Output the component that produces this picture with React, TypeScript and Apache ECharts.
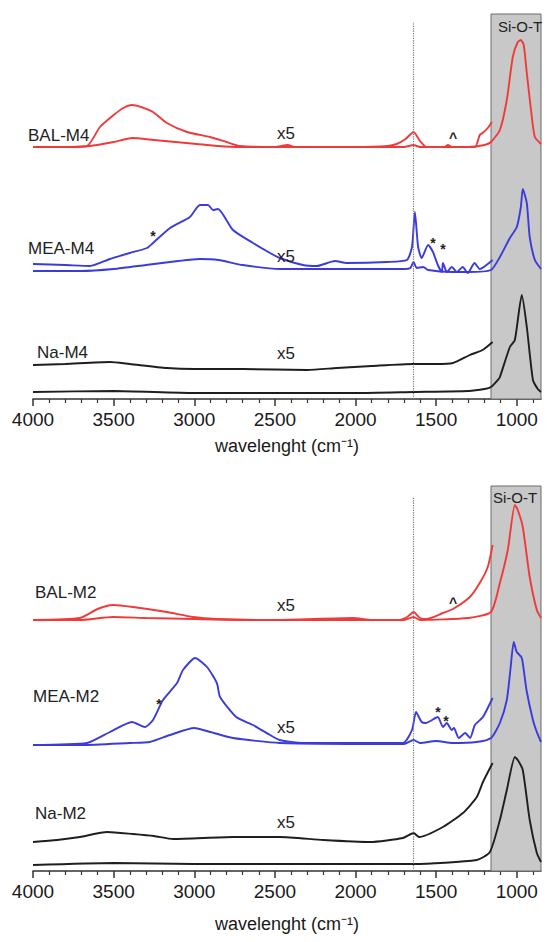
import React, { useEffect, useRef } from "react";
import * as echarts from "echarts";

// ---------- data (wavenumber cm-1, intensity in arbitrary units) ----------
const MAJOR_TICKS = [4000, 3500, 3000, 2500, 2000, 1500, 1000];
const MINOR_TICKS = [3900, 3800, 3700, 3600, 3400, 3300, 3200, 3100, 2900, 2800, 2700, 2600, 2400, 2300, 2200, 2100, 1900, 1800, 1700, 1600, 1400, 1300, 1200, 1100, 900];
const X_MIN = 850;
const X_MAX = 4000;
const SIOT_RANGE = [1160, 850];
const DOTTED_LINE_X = 1640;

// top panel (M4)
const BAL_M4_raw = [[4000,252],[3800,252],[3650,253],[3500,257],[3386,261],[3250,259],[3050,256],[2850,253],[2717,252],[2000,252],[1700,252],[1640,254],[1600,252],[1300,252],[1200,254],[1160,257],[1105,269],[1062,299],[1025,342],[994,357],[975,359],[957,354],[938,326],[907,282],[888,262],[850,255]];
const BAL_M4_x5 = [[4000,252],[3800,252],[3665,253],[3585,272],[3500,284],[3440,291],[3386,294],[3330,292],[3256,287],[3170,276],[3045,267],[2903,262],[2800,257],[2717,253],[2500,252],[2420,254],[2380,252],[2000,252],[1800,253],[1745,255],[1690,260],[1640,267],[1600,258],[1560,252],[1450,252],[1427,254],[1400,252],[1260,252],[1230,264],[1212,266],[1180,271],[1155,277]];
const MEA_M4_raw = [[4000,128],[3700,128],[3500,130],[3300,134],[3100,138],[2965,140],[2850,139],[2700,134],[2470,130],[2000,130],[1700,130],[1660,131],[1640,137],[1620,131],[1580,132],[1550,129],[1400,127],[1300,127],[1160,129],[1105,142],[1043,161],[1000,172],[975,192],[963,210],[938,196],[920,162],[888,139],[850,130]];
const MEA_M4_x5 = [[4000,135],[3800,134],[3647,133],[3523,140],[3400,146],[3293,151],[3256,156],[3150,171],[3027,182],[2965,194],[2915,194],[2884,189],[2853,190],[2760,169],[2636,156],[2530,146],[2470,141],[2326,134],[2240,133],[2128,138],[2054,136],[1806,137],[1682,139],[1650,152],[1632,187],[1612,152],[1590,141],[1550,154],[1520,147],[1490,134],[1465,127],[1458,136],[1434,127],[1403,132],[1372,127],[1335,132],[1304,126],[1262,136],[1230,130],[1150,139]];
const NA_M4_raw = [[4000,7],[3500,8],[3000,6],[2000,6],[1640,7],[1300,8],[1200,10],[1160,12],[1118,19],[1105,22],[1043,52],[1012,59],[969,104],[938,72],[900,19],[870,10],[850,7]];
const NA_M4_x5 = [[4000,34],[3800,35],[3523,37],[3400,35],[3170,31],[3000,30],[2700,30],[2300,29],[2116,31],[1900,33],[1644,35],[1500,35],[1396,36],[1291,44],[1212,49],[1150,57]];

// bottom panel (M2)
const BAL_M2_raw = [[4000,251],[3709,251],[3504,254],[3300,253],[3000,252],[2700,251],[1700,251],[1640,254],[1600,251],[1300,253],[1160,259],[1105,288],[1056,321],[1012,366],[994,361],[963,344],[920,294],[876,261],[850,253]];
const BAL_M2_x5 = [[4000,251],[3709,253],[3600,262],[3504,266],[3380,264],[3170,259],[3008,254],[2860,252],[2500,251],[2016,253],[1900,251],[1737,251],[1680,254],[1640,259],[1600,253],[1560,252],[1458,258],[1396,262],[1291,274],[1230,288],[1180,304],[1150,326]];
const MEA_M2_raw = [[4000,126],[3700,126],[3400,128],[3275,129],[3150,136],[3000,143],[2900,139],[2760,133],[2470,128],[1700,127],[1640,131],[1600,128],[1500,130],[1400,128],[1250,129],[1160,133],[1105,148],[1062,171],[1040,201],[1019,229],[1000,219],[969,213],[940,181],[900,151],[876,139],[850,129]];
const MEA_M2_x5 = [[4000,126],[3665,128],[3523,139],[3386,149],[3305,144],[3256,151],[3194,171],[3107,188],[3070,201],[2995,213],[2921,204],[2860,188],[2840,174],[2740,154],[2636,146],[2530,136],[2470,131],[2326,128],[1706,128],[1650,141],[1625,159],[1590,149],[1565,148],[1490,154],[1458,144],[1434,148],[1403,141],[1390,143],[1360,133],[1320,138],[1290,133],[1260,146],[1210,154],[1150,173]];
const NA_M2_raw = [[4000,6],[3500,8],[3000,7],[1640,7],[1248,11],[1167,19],[1105,51],[1062,81],[1012,114],[994,111],[963,101],[920,51],[876,18],[850,9]];
const NA_M2_x5 = [[4000,29],[3850,31],[3709,34],[3540,39],[3380,37],[3250,35],[3130,32],[2760,34],[2470,34],[2200,31],[1910,29],[1706,33],[1640,38],[1606,34],[1458,44],[1334,58],[1248,74],[1210,89],[1150,108]];

const RED = "#f03a3a";
const BLUE = "#3b3bdc";
const BLACK = "#1e1e1e";
const FONT = "Liberation Sans, Arial, sans-serif";

export default function App() {
  const ref = useRef<HTMLDivElement>(null);
  useEffect(() => {
    if (!ref.current) return;
    const chart = echarts.init(ref.current, undefined, { renderer: "svg" });

    const grids = [
      { left: 33, right: 6, top: 14, height: 385 },
      { left: 33, right: 6, top: 486, height: 385 },
    ];
    const nameGaps = [38, 44];

    const xAxes: any[] = [];
    grids.forEach((_, gi) => {
      xAxes.push({
        type: "value",
        gridIndex: gi,
        position: "bottom",
        inverse: true,
        min: X_MIN,
        max: X_MAX,
        splitLine: { show: false },
        axisLine: { show: true, lineStyle: { color: "#333", width: 1.5 } },
        axisTick: { show: true, inside: false, length: 7, lineStyle: { color: "#333", width: 1.5 }, customValues: MAJOR_TICKS },
        axisLabel: {
          show: true,
          customValues: MAJOR_TICKS,
          formatter: (v: number) => String(v),
          fontSize: 19,
          fontFamily: FONT,
          color: "#1a1a1a",
          margin: 11,
        },
        name: "wavelenght (cm⁻¹)",
        nameLocation: "middle",
        nameGap: nameGaps[gi],
        nameTextStyle: { fontSize: 18, fontFamily: FONT, color: "#1a1a1a" },
      });
      xAxes.push({
        type: "value",
        gridIndex: gi,
        position: "bottom",
        inverse: true,
        min: X_MIN,
        max: X_MAX,
        splitLine: { show: false },
        axisLine: { show: false },
        axisTick: { show: true, inside: false, length: 4, lineStyle: { color: "#333", width: 1.2 }, customValues: MINOR_TICKS },
        axisLabel: { show: false },
      });
    });

    const yAxes = grids.map((_, gi) => ({
      type: "value",
      gridIndex: gi,
      min: 0,
      max: 385,
      show: false,
    }));

    const line = (data: number[][], color: string, gi: number) => ({
      type: "line",
      xAxisIndex: gi * 2,
      yAxisIndex: gi,
      data,
      showSymbol: false,
      symbol: "none",
      smooth: 0.2,
      z: 3,
      lineStyle: { color, width: 1.9 },
      silent: true,
    });

    const decor = (gi: number, topVal: number) => ({
      type: "line",
      xAxisIndex: gi * 2,
      yAxisIndex: gi,
      data: [],
      z: 1,
      silent: true,
      markArea: {
        silent: true,
        itemStyle: { color: "#c8c8c8", borderColor: "#6a6a6a", borderWidth: 1 },
        data: [[{ xAxis: SIOT_RANGE[0], yAxis: 0 }, { xAxis: SIOT_RANGE[1], yAxis: 385 }]],
      },
      markLine: {
        silent: true,
        symbol: "none",
        label: { show: false },
        lineStyle: { color: "#777", type: "dotted", width: 1.2 },
        data: [[{ coord: [DOTTED_LINE_X, 0] }, { coord: [DOTTED_LINE_X, topVal] }]],
      },
    });

    const series = [
      decor(0, 377),
      decor(1, 374),
      line(BAL_M4_raw, RED, 0),
      line(BAL_M4_x5, RED, 0),
      line(MEA_M4_raw, BLUE, 0),
      line(MEA_M4_x5, BLUE, 0),
      line(NA_M4_raw, BLACK, 0),
      line(NA_M4_x5, BLACK, 0),
      line(BAL_M2_raw, RED, 1),
      line(BAL_M2_x5, RED, 1),
      line(MEA_M2_raw, BLUE, 1),
      line(MEA_M2_x5, BLUE, 1),
      line(NA_M2_raw, BLACK, 1),
      line(NA_M2_x5, BLACK, 1),
    ];

    const txt = (text: string, x: number, y: number, size = 17, align = "left", weight = "normal") => ({
      type: "text",
      x,
      y,
      z: 10,
      silent: true,
      style: { text, fill: "#222", font: `${weight} ${size}px ${FONT}`, align, verticalAlign: "middle" },
    });

    const graphic = [
      txt("Si-O-T", 520, 26, 15, "center"),
      txt("BAL-M4", 28, 135),
      txt("x5", 277, 133),
      txt("^", 453, 138, 14, "center", "bold"),
      txt("MEA-M4", 28, 248),
      txt("*", 153, 236, 14, "center", "bold"),
      txt("x5", 277, 256),
      txt("*", 433, 243, 14, "center", "bold"),
      txt("*", 443, 249, 14, "center", "bold"),
      txt("Na-M4", 37, 352),
      txt("x5", 277, 353),
      txt("Si-O-T", 515, 497, 15, "center"),
      txt("BAL-M2", 35, 592),
      txt("x5", 277, 605),
      txt("^", 453, 603, 14, "center", "bold"),
      txt("MEA-M2", 33, 696),
      txt("*", 159, 704, 14, "center", "bold"),
      txt("x5", 277, 727),
      txt("*", 438, 712, 14, "center", "bold"),
      txt("*", 446, 721, 14, "center", "bold"),
      txt("Na-M2", 35, 813),
      txt("x5", 277, 822),
    ];

    chart.setOption({
      animation: false,
      backgroundColor: "#ffffff",
      grid: grids,
      xAxis: xAxes,
      yAxis: yAxes,
      series,
      graphic,
    });
    return () => chart.dispose();
  }, []);

  return (
    <div
      ref={ref}
      style={{ position: "fixed", left: 0, top: 0, width: 547, height: 942, background: "#fff" }}
    />
  );
}
